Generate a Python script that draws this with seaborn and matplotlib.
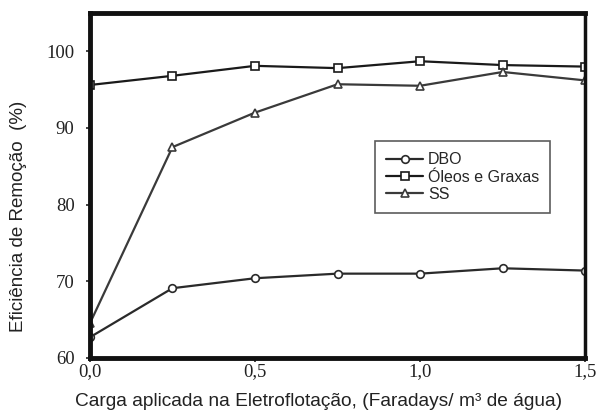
import numpy as np
import pandas as pd
import matplotlib
matplotlib.use("Agg")
import matplotlib.pyplot as plt
import seaborn as sns

carga = [0.0, 0.25, 0.5, 0.75, 1.0, 1.25, 1.5]
dbo = [62.7, 69.1, 70.4, 71.0, 71.0, 71.7, 71.4]
oleos = [95.6, 96.8, 98.1, 97.8, 98.7, 98.2, 98.0]
ss = [64.5, 87.5, 92.0, 95.7, 95.5, 97.3, 96.2]
series_names = ["DBO", "Óleos e Graxas", "SS"]
xticks = [0.0, 0.5, 1.0, 1.5]
xtick_labels = ["0,0", "0,5", "1,0", "1,5"]
yticks = [60, 70, 80, 90, 100]

df = pd.DataFrame({
    "carga": carga * 3,
    "valor": dbo + oleos + ss,
    "serie": [series_names[0]] * 7 + [series_names[1]] * 7 + [series_names[2]] * 7,
})

sns.set_style("ticks")
plt.rcParams["font.family"] = ["Liberation Sans", "DejaVu Sans"]

fig = plt.figure(figsize=(5.99, 4.17), dpi=100)
ax = fig.add_axes([0.150, 0.1415, 0.827, 0.8275])

markers = {"DBO": "o", "Óleos e Graxas": "s", "SS": "^"}
colors = {"DBO": "#2a2a2a", "Óleos e Graxas": "#1a1a1a", "SS": "#3a3a3a"}
for name in series_names:
    sub = df[df["serie"] == name]
    sns.lineplot(data=sub, x="carga", y="valor", ax=ax, color=colors[name],
                 marker=markers[name], markersize=5.5, markerfacecolor="white",
                 markeredgecolor=colors[name], markeredgewidth=1.2,
                 linewidth=1.6, label=name)

ax.set_xlim(0, 1.5)
ax.set_ylim(60, 105)
ax.set_xticks(xticks)
ax.set_xticklabels(xtick_labels)
ax.set_yticks(yticks)
ax.tick_params(axis="both", labelsize=13.5, colors="#222222", length=3, width=1.2, direction="out")
ax.tick_params(axis="y", pad=8)
ax.tick_params(axis="x", pad=0.5)
for lab in ax.get_xticklabels() + ax.get_yticklabels():
    lab.set_family(["Liberation Serif", "DejaVu Serif"])
for side, s in ax.spines.items():
    s.set_visible(True)
    s.set_linewidth(2.5 if side == "right" else 3.5)
    s.set_color("#111111")
ax.set_xlabel("Carga aplicada na Eletroflotação, (Faradays/ m³ de água)", fontsize=13.8, color="#222222")
ax.set_ylabel("Eficiência de Remoção  (%)", fontsize=13.5, color="#222222")
ax.xaxis.set_label_coords(0.461, -0.101)
ax.yaxis.set_label_coords(-0.127, 0.409)

leg = ax.legend(loc="upper left", bbox_to_anchor=(0.56, 0.652), frameon=True, fancybox=False,
                fontsize=11.5, handlelength=2.3, handletextpad=0.3, borderpad=0.7, labelspacing=0.15)
leg.get_frame().set_edgecolor("#333333")
leg.get_frame().set_linewidth(1.2)

fig.savefig("out.png", dpi=100)
